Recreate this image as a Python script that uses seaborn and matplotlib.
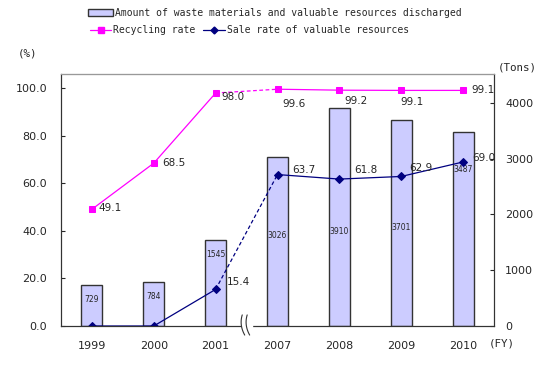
import numpy as np
import matplotlib
matplotlib.use("Agg")
import matplotlib.pyplot as plt
import seaborn as sns
from matplotlib.patches import Patch, Rectangle
from matplotlib.lines import Line2D

years = ["1999", "2000", "2001", "2007", "2008", "2009", "2010"]
tons = [729, 784, 1545, 3026, 3910, 3701, 3487]
recycling = [49.1, 68.5, 98.0, 99.6, 99.2, 99.1, 99.1]
sale = [0.0, 0.0, 15.4, 63.7, 61.8, 62.9, 69.0]

sns.set_style("white")
plt.rcParams['font.family'] = ['DejaVu Sans']

BAR_C = "#CCCCFF"
REC_C = "#FF00FF"
SALE_C = "#000080"
mono = "DejaVu Sans Mono"

pos = np.arange(len(years))
fig, ax = plt.subplots(figsize=(5.5, 3.75), dpi=100)
fig.subplots_adjust(left=61/550, right=494/550, top=1-74/375, bottom=1-326/375)
ax2 = ax.twinx()

# bars (tons) on the right axis
sns.barplot(x=pos, y=tons, ax=ax2, native_scale=True, orient="x", width=0.34,
            color=BAR_C, edgecolor="#333333", linewidth=1, saturation=1)

# rate lines on the left axis, dashed across the 2001 -> 2007 gap
pieces = [(slice(0, 3), "-", True), (slice(2, 4), (0, (3, 2)), False), (slice(3, None), "-", True)]
for vals, col, mk in [(recycling, REC_C, "s"), (sale, SALE_C, "D")]:
    v = np.array(vals)
    for sl, ls, show in pieces:
        sns.lineplot(x=pos[sl], y=v[sl], ax=ax, color=col, linestyle=ls,
                     marker=mk if show else None, markersize=4.3 if mk == "s" else 3.7,
                     markeredgecolor=col, linewidth=0.9, legend=False)

ax.set_zorder(ax2.get_zorder() + 1)
ax.patch.set_visible(False)

# axes
ax.set_xlim(-0.5, 6.5)
ax.set_ylim(0, 106)
ax2.set_ylim(0, 4520)
ax.set_yticks(np.arange(0, 101, 20))
ax.set_yticklabels([f"{t:.1f}" for t in np.arange(0, 101, 20)])
ax2.set_yticks(np.arange(0, 4001, 1000))
ax2.set_yticklabels([str(t) for t in range(0, 4001, 1000)])
ax.set_xticks(pos)
ax.set_xticklabels(years)
ax.set_xticks([0.5, 1.5, 3.5, 4.5, 5.5], minor=True)
ax.tick_params(axis="x", which="major", length=0, pad=11, labelsize=8)
ax.tick_params(axis="x", which="minor", direction="in", length=4, width=0.8, color="#333333")
ax.tick_params(axis="y", direction="in", length=3, pad=10, labelsize=8)
ax2.tick_params(axis="y", direction="in", length=3, pad=8, labelsize=8)
ax2.set_xlabel("")
ax.set_xlabel("")
ax.set_ylabel("")
ax2.set_ylabel("")
for a in (ax, ax2):
    for s in a.spines.values():
        s.set_color("#333333")
        s.set_linewidth(0.8)
ax.spines["top"].set_color("#999999")

# value labels
rec_off = [(7, 1), (8, 0), (6, -4), (5, -15), (5, -11), (-1, -12), (8, 0)]
for i, (v, off) in enumerate(zip(recycling, rec_off)):
    ax.annotate(f"{v:.1f}", (pos[i], v), textcoords="offset pixels", xytext=off,
                ha="left", va="center", fontsize=7.5)
sale_off = [None, None, (11, 7), (15, 5), (15, 9), (8, 8), (9, 4)]
for i, (v, off) in enumerate(zip(sale, sale_off)):
    if off is None:
        continue
    ax.annotate(f"{v:.1f}", (pos[i], v), textcoords="offset pixels", xytext=off,
                ha="left", va="center", fontsize=7.5)
bar_off = [14, 14, 15, 78, 123, 108, 38]
for i, (v, off) in enumerate(zip(tons, bar_off)):
    ax2.annotate(str(v), (pos[i], v), textcoords="offset pixels", xytext=(0, -off),
                 ha="center", va="center", fontsize=5.5)

# axis break mark between 2001 and 2007
tr = ax.get_xaxis_transform()
ax.add_patch(Rectangle((2.42, -0.01), 0.16, 0.02, transform=tr, color="white",
                       clip_on=False, zorder=10))
t = np.linspace(-1, 1, 30)
for x0 in (2.45, 2.53):
    ax.plot(x0 - 0.035 * (1 - t ** 2) + 0.02 * t, 0.004 - 0.04 * t, transform=tr,
            color="#333333", linewidth=0.8, clip_on=False, zorder=11)

# unit labels
fig.text(27/550, 1-53/375, "(%)", ha="center", va="center", fontsize=7.8, family=mono)
fig.text(517/550, 1-67/375, "(Tons)", ha="center", va="center", fontsize=7.8, family=mono)
fig.text(502/550, 1-344/375, "(FY)", ha="center", va="center", fontsize=7.8, family=mono)

# legends
h1 = [Patch(facecolor=BAR_C, edgecolor="#333333", linewidth=1)]
fig.legend(h1, ["Amount of waste materials and valuable resources discharged"],
           loc="upper left", bbox_to_anchor=(88/550, 1-8/375), frameon=False,
           prop={"family": mono, "size": 7}, handlelength=2.6, handleheight=0.6,
           handletextpad=0.2, borderpad=0, borderaxespad=0)
h2 = [Line2D([], [], color=REC_C, marker="s", markersize=4, linewidth=0.9),
      Line2D([], [], color=SALE_C, marker="D", markersize=3.5, linewidth=0.9)]
fig.legend(h2, ["Recycling rate", "Sale rate of valuable resources"], ncol=2,
           loc="upper left", bbox_to_anchor=(90/550, 1-25/375), frameon=False,
           prop={"family": mono, "size": 7}, handlelength=2.2, handletextpad=0.2,
           columnspacing=0.8, borderpad=0, borderaxespad=0)

fig.savefig("out.png", dpi=100)
